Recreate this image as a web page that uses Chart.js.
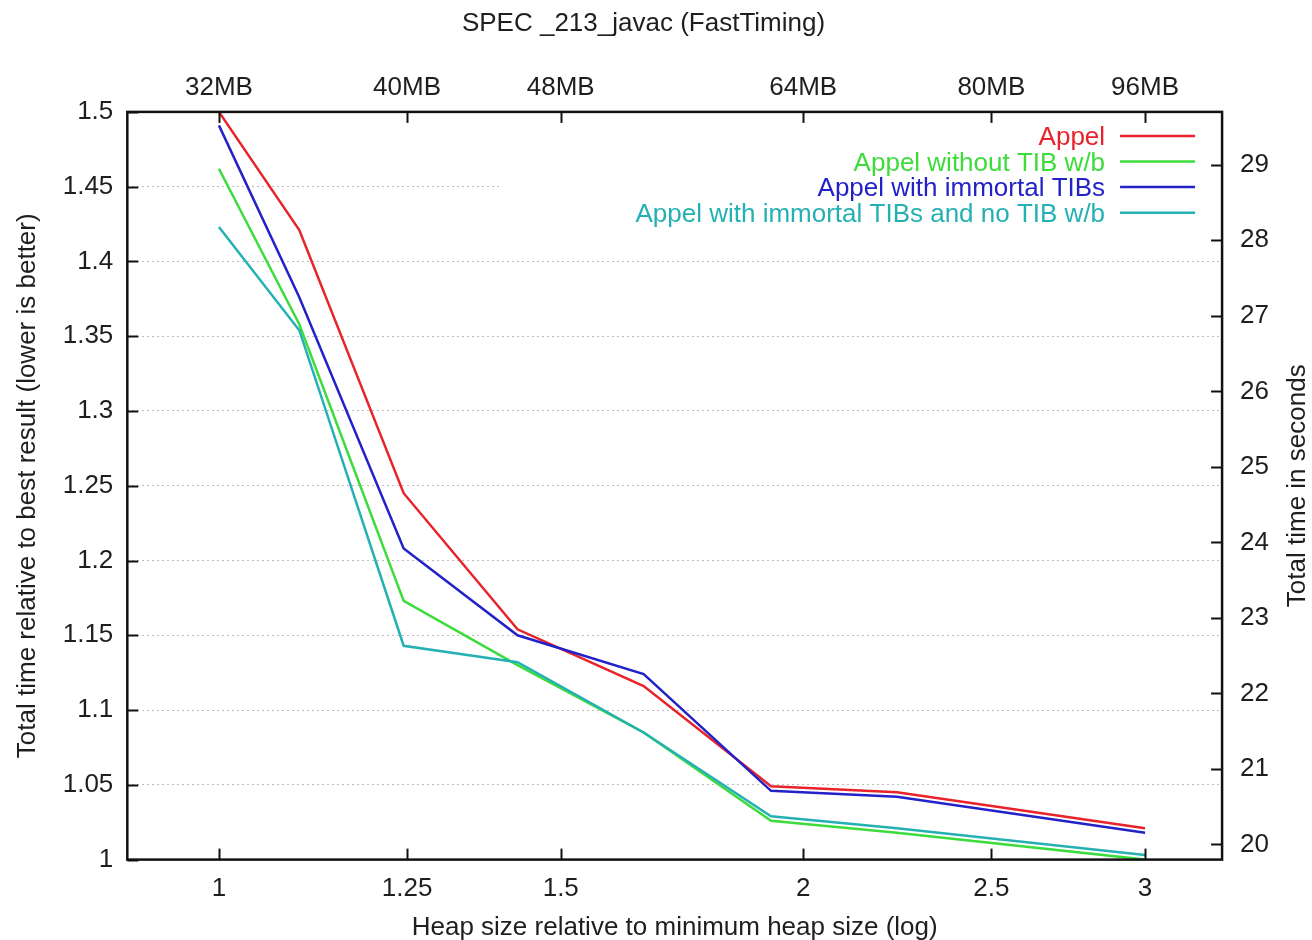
<!DOCTYPE html>
<html>
<head>
<meta charset="utf-8">
<title>SPEC _213_javac (FastTiming)</title>
<script src="https://cdn.jsdelivr.net/npm/chart.js@4.4.1/dist/chart.umd.min.js"></script>
<style>
  html, body { margin: 0; padding: 0; background: #fff; }
  #wrap { width: 1312px; height: 940px; }
</style>
</head>
<body>
<div id="wrap"><canvas id="javacChart" width="1312" height="940"></canvas></div>
<script>
// heap size relative to the minimum heap size (shared x values)
const heapRatio = [1, 1.1, 1.245, 1.425, 1.655, 1.925, 2.235, 3];

// total time relative to best result, one array per collector
const appel         = [1.500, 1.421, 1.245, 1.154, 1.116, 1.049, 1.045, 1.021];
const appelNoWB     = [1.462, 1.358, 1.173, 1.130, 1.085, 1.026, 1.018, 1.000];
const appelImmortal = [1.491, 1.376, 1.208, 1.150, 1.124, 1.046, 1.042, 1.018];
const appelImmNoWB  = [1.423, 1.354, 1.143, 1.132, 1.085, 1.029, 1.021, 1.003];

const seriesNames = ['Appel', 'Appel without TIB w/b', 'Appel with immortal TIBs', 'Appel with immortal TIBs and no TIB w/b'];
const seriesValues = [appel, appelNoWB, appelImmortal, appelImmNoWB];
const seriesColors = ['#e8232a', '#3ddc3d', '#2222c8', '#25b0b4'];

// tick labels
const bottomTicks = [1, 1.25, 1.5, 2, 2.5, 3];
const topTickLabels = ['32MB', '40MB', '48MB', '64MB', '80MB', '96MB'];
const secondsTicks = [20, 21, 22, 23, 24, 25, 26, 27, 28, 29];
const bestSeconds = 19.8; // seconds for relative time 1.0

const relMin = 1, relMax = 1.5;
const FONT = "'Liberation Sans', Arial, Helvetica, sans-serif";
const INK = '#1e1e1e';

Chart.defaults.font.family = FONT;
Chart.defaults.font.size = 26;
Chart.defaults.color = INK;

// gnuplot style frame with inward ticks
const framePlugin = {
    id: 'frame',
    afterDatasetsDraw(chart) {
        const ctx = chart.ctx;
        const a = chart.chartArea;
        const len = 11;
        ctx.save();
        ctx.strokeStyle = '#111';
        ctx.lineWidth = 2;
        ['x', 'x2', 'y', 'y2'].forEach(id => {
            const s = chart.scales[id];
            s.ticks.forEach(t => {
                const p = Math.round(s.getPixelForValue(t.value)) + 0.5;
                ctx.beginPath();
                if (id === 'x') { ctx.moveTo(p, a.bottom); ctx.lineTo(p, a.bottom - len); }
                if (id === 'x2') { ctx.moveTo(p, a.top); ctx.lineTo(p, a.top + len); }
                if (id === 'y') { ctx.moveTo(a.left, p); ctx.lineTo(a.left + len, p); }
                if (id === 'y2') { ctx.moveTo(a.right, p); ctx.lineTo(a.right - len, p); }
                ctx.stroke();
            });
        });
        ctx.lineWidth = 2.5;
        ctx.strokeRect(a.left, a.top, a.right - a.left, a.bottom - a.top);
        ctx.restore();
    }
};

// key inside the plot, text right aligned with the line sample after it
const keyPlugin = {
    id: 'key',
    beforeDatasetsDraw(chart) {
        const ctx = chart.ctx;
        const a = chart.chartArea;
        ctx.save();
        ctx.fillStyle = '#fff';
        ctx.fillRect(a.left + 375, a.top + 2, a.right - a.left - 377, 110);
        ctx.restore();
    },
    afterDatasetsDraw(chart) {
        const ctx = chart.ctx;
        const a = chart.chartArea;
        ctx.save();
        ctx.font = '26px ' + FONT;
        ctx.textAlign = 'right';
        ctx.textBaseline = 'middle';
        seriesNames.forEach((name, i) => {
            const y = a.top + 26 + i * 25.6;
            ctx.fillStyle = seriesColors[i];
            ctx.fillText(name, a.right - 117, y);
            ctx.strokeStyle = seriesColors[i];
            ctx.lineWidth = 2.5;
            ctx.beginPath();
            ctx.moveTo(a.right - 102, y - 2);
            ctx.lineTo(a.right - 27, y - 2);
            ctx.stroke();
        });
        // right axis title reads bottom to top like the left one
        ctx.translate(chart.width - 14, (a.top + a.bottom) / 2);
        ctx.rotate(-Math.PI / 2);
        ctx.textAlign = 'center';
        ctx.fillStyle = INK;
        ctx.fillText('Total time in seconds', 0, 0);
        ctx.restore();
    }
};

const ctx = document.getElementById('javacChart').getContext('2d');
const javacChart = new Chart(ctx, {
    type: 'line',
    data: {
        datasets: seriesValues.map((vals, i) => ({
            label: seriesNames[i],
            data: heapRatio.map((x, j) => ({ x: x, y: vals[j] })),
            borderColor: seriesColors[i],
            borderWidth: 2.5,
            pointRadius: 0,
            tension: 0,
            fill: false,
            order: 3 - i
        }))
    },
    options: {
        responsive: false,
        animation: false,
        layout: { padding: { left: 0, right: 25, top: 0, bottom: 0 } },
        plugins: {
            legend: { display: false },
            tooltip: { enabled: false },
            title: {
                display: true,
                text: 'SPEC _213_javac (FastTiming)',
                font: { size: 26, weight: 'normal' },
                color: INK,
                padding: { top: 8.5, bottom: 24 }
            }
        },
        scales: {
            x: {
                type: 'logarithmic',
                position: 'bottom',
                min: 0.897,
                max: 3.287,
                afterBuildTicks: s => { s.ticks = bottomTicks.map(v => ({ value: v })); },
                ticks: { autoSkip: false, maxRotation: 0, padding: 13.5, callback: v => String(v) },
                grid: { display: false, drawTicks: false },
                border: { display: false },
                title: {
                    display: true,
                    text: 'Heap size relative to minimum heap size (log)',
                    padding: { top: -6, bottom: -3 }
                }
            },
            x2: {
                type: 'logarithmic',
                position: 'top',
                min: 0.897,
                max: 3.287,
                afterBuildTicks: s => { s.ticks = bottomTicks.map(v => ({ value: v })); },
                ticks: { autoSkip: false, maxRotation: 0, padding: 8.5, callback: (v, i) => topTickLabels[i] },
                grid: { display: false, drawTicks: false },
                border: { display: false }
            },
            y: {
                type: 'linear',
                position: 'left',
                min: relMin,
                max: relMax,
                ticks: { stepSize: 0.05, padding: 14, callback: v => String(Math.round(v * 100) / 100) },
                grid: { color: '#bdbdbd', lineWidth: 1, drawTicks: false },
                border: { display: false, dash: [2, 3] },
                title: {
                    display: true,
                    text: 'Total time relative to best result (lower is better)',
                    padding: { top: 12.5, bottom: 5 }
                }
            },
            y2: {
                type: 'linear',
                position: 'right',
                min: relMin * bestSeconds,
                max: relMax * bestSeconds,
                afterBuildTicks: s => { s.ticks = secondsTicks.map(v => ({ value: v })); },
                ticks: { padding: 18, callback: v => String(v) },
                grid: { display: false, drawTicks: false },
                border: { display: false }
            }
        }
    },
    plugins: [keyPlugin, framePlugin]
});
</script>
</body>
</html>
